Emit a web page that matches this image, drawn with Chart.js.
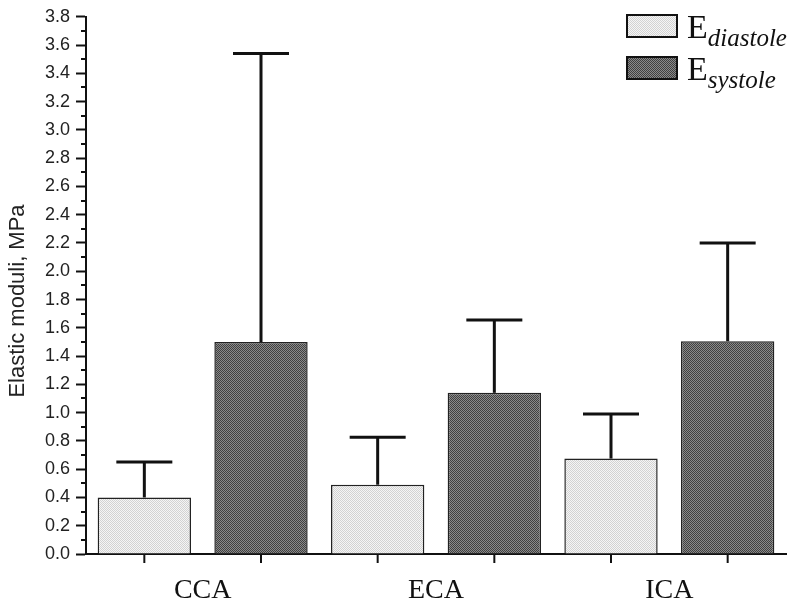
<!DOCTYPE html>
<html>
<head>
<meta charset="utf-8">
<script src="https://cdn.jsdelivr.net/npm/chart.js@4.4.1/dist/chart.umd.min.js"></script>
<style>
  html, body { margin: 0; padding: 0; background: #fff; }
  #wrap { width: 800px; height: 610px; }
</style>
</head>
<body>
<div id="wrap"><canvas id="chart"></canvas></div>
<script>
const categories = ['CCA', 'ECA', 'ICA'];
const diastole = [0.40, 0.49, 0.675];
const diastoleErr = [0.25, 0.335, 0.315];
const systole = [1.50, 1.14, 1.505];
const systoleErr = [2.04, 0.515, 0.695];
const yTicks = [0, 0.2, 0.4, 0.6, 0.8, 1.0, 1.2, 1.4, 1.6, 1.8, 2.0, 2.2, 2.4, 2.6, 2.8, 3.0, 3.2, 3.4, 3.6, 3.8];

// small bitmap fills to mimic the printed hatching
function makePattern(a, b) {
  const c = document.createElement('canvas');
  c.width = 2; c.height = 2;
  const g = c.getContext('2d');
  g.fillStyle = a; g.fillRect(0, 0, 2, 2);
  g.fillStyle = b; g.fillRect(0, 0, 1, 1); g.fillRect(1, 1, 1, 1);
  return g.createPattern(c, 'repeat');
}
const lightFill = makePattern('#f5f5f5', '#d2d2d2');
const darkFill = makePattern('#8a8a8a', '#404040');

const errors = [diastoleErr, systoleErr];

const extras = {
  id: 'extras',
  afterDatasetsDraw(chart) {
    const ctx = chart.ctx;
    const y = chart.scales.y;
    const area = chart.chartArea;
    ctx.save();
    ctx.strokeStyle = '#111';
    // error bars (upper only)
    chart.data.datasets.forEach((ds, i) => {
      const meta = chart.getDatasetMeta(i);
      meta.data.forEach((bar, j) => {
        const top = y.getPixelForValue(ds.data[j] + errors[i][j]);
        ctx.lineWidth = 3;
        ctx.beginPath();
        ctx.moveTo(bar.x, bar.y);
        ctx.lineTo(bar.x, top);
        ctx.stroke();
        ctx.beginPath();
        ctx.moveTo(bar.x - 28, top);
        ctx.lineTo(bar.x + 28, top);
        ctx.stroke();
        // tick mark under each bar
        ctx.lineWidth = 2;
        ctx.beginPath();
        ctx.moveTo(bar.x, area.bottom);
        ctx.lineTo(bar.x, area.bottom + 9);
        ctx.stroke();
      });
    });
    // minor y ticks
    ctx.lineWidth = 2;
    for (let k = 0; k < yTicks.length - 1; k++) {
      const py = Math.round(y.getPixelForValue((yTicks[k] + yTicks[k + 1]) / 2));
      ctx.beginPath();
      ctx.moveTo(area.left - 5, py);
      ctx.lineTo(area.left, py);
      ctx.stroke();
    }
    ctx.restore();

    // y title, drawn by hand so it sits a little below the middle like the original
    ctx.save();
    ctx.translate(18, 301);
    ctx.rotate(-Math.PI / 2);
    ctx.textAlign = 'center';
    ctx.textBaseline = 'middle';
    ctx.fillStyle = '#222';
    ctx.font = '22px "Liberation Sans"';
    ctx.fillText('Elastic moduli, MPa', 0, 0);
    ctx.restore();

    // legend with subscripts
    const items = [
      { fill: lightFill, sub: 'diastole', y: 15 },
      { fill: darkFill, sub: 'systole', y: 57 }
    ];
    ctx.save();
    items.forEach(it => {
      ctx.fillStyle = it.fill;
      ctx.fillRect(627, it.y, 50, 22);
      ctx.strokeStyle = '#111';
      ctx.lineWidth = 2;
      ctx.strokeRect(627, it.y, 50, 22);
      ctx.fillStyle = '#111';
      ctx.textBaseline = 'alphabetic';
      ctx.font = '34px "Liberation Serif"';
      ctx.fillText('E', 687, it.y + 23);
      const w = ctx.measureText('E').width;
      ctx.font = 'italic 25px "Liberation Serif"';
      ctx.fillText(it.sub, 687 + w, it.y + 31);
    });
    ctx.restore();
  }
};

new Chart(document.getElementById('chart'), {
  type: 'bar',
  data: {
    labels: categories,
    datasets: [
      {
        label: 'E diastole',
        data: diastole,
        backgroundColor: lightFill,
        borderColor: '#222',
        borderWidth: 1.5,
        categoryPercentage: 1.0,
        barPercentage: 0.8
      },
      {
        label: 'E systole',
        data: systole,
        backgroundColor: darkFill,
        borderColor: '#222',
        borderWidth: 1.5,
        categoryPercentage: 1.0,
        barPercentage: 0.8
      }
    ]
  },
  options: {
    responsive: true,
    maintainAspectRatio: false,
    animation: false,
    layout: { padding: { top: 12, right: 14, left: 0, bottom: 0 } },
    plugins: {
      legend: { display: false },
      tooltip: { enabled: false }
    },
    scales: {
      x: {
        grid: { display: false, drawTicks: false },
        border: { display: true, color: '#111', width: 2 },
        ticks: {
          color: '#111',
          padding: 20,
          font: { family: '"Liberation Serif"', size: 28 }
        },
        afterFit(scale) { scale.height = 56; }
      },
      y: {
        min: 0,
        max: 3.8,
        afterBuildTicks(scale) {
          scale.ticks = yTicks.map(v => ({ value: v }));
        },
        grid: { drawOnChartArea: false, tickLength: 10, tickColor: '#111', tickWidth: 2 },
        border: { display: true, color: '#111', width: 2 },
        ticks: {
          color: '#222',
          padding: 6,
          font: { family: '"Liberation Sans"', size: 18 },
          callback: v => Number(v).toFixed(1)
        },
        afterFit(scale) { scale.width = 86; }
      }
    }
  },
  plugins: [extras]
});
</script>
</body>
</html>
